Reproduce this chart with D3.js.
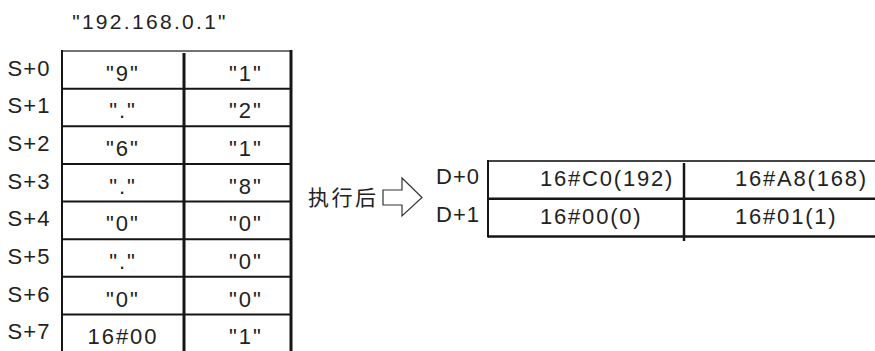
<!DOCTYPE html>
<html><head><meta charset="utf-8">
<script src="https://cdn.jsdelivr.net/npm/d3@7"></script>
<style>
html,body{margin:0;padding:0;background:#fff;}
svg text{font-family:"Liberation Sans",Arial,sans-serif;fill:#222;}
</style></head>
<body><svg id="c" width="875" height="351"></svg>
<script>
const title = '"192.168.0.1"';
const sLabels = ["S+0","S+1","S+2","S+3","S+4","S+5","S+6","S+7"];
const sCol1 = ['"9"','"."','"6"','"."','"0"','"."','"0"','16#00'];
const sCol2 = ['"1"','"2"','"1"','"8"','"0"','"0"','"0"','"1"'];
const dLabels = ["D+0","D+1"];
const dCol1 = ["16#C0(192)","16#00(0)"];
const dCol2 = ["16#A8(168)","16#01(1)"];
const actionText = "执行后";

const svg = d3.select("#c");
const ink = "#161616";

// title
svg.append("text").attr("x",150).attr("y",29).attr("text-anchor","middle")
  .attr("font-size",21).attr("letter-spacing",2.3).text(title);

// ---- left table
const yS = d3.scaleBand().domain(sLabels).range([51,352]);
const xS = d3.scaleOrdinal().domain(["c1","c2"]).range([123,246]);
const L = 62, M = 184, R = 291;
const g1 = svg.append("g");
g1.selectAll("line.h").data(sLabels).join("line")
  .attr("x1",L).attr("x2",R).attr("y1",d=>yS(d)).attr("y2",d=>yS(d))
  .attr("stroke",(d,i)=>i===0?"#444":ink).attr("stroke-width",(d,i)=>i===0?1.6:2);
g1.append("line").attr("x1",L).attr("x2",L).attr("y1",yS(sLabels[0])-1).attr("y2",351)
  .attr("stroke",ink).attr("stroke-width",2);
g1.append("line").attr("x1",M).attr("x2",M).attr("y1",yS(sLabels[0])+2).attr("y2",351)
  .attr("stroke",ink).attr("stroke-width",3);
g1.append("line").attr("x1",R).attr("x2",R).attr("y1",yS(sLabels[0])-1).attr("y2",351)
  .attr("stroke",ink).attr("stroke-width",3);
const bw = yS.bandwidth();
g1.selectAll("text.lab").data(sLabels).join("text")
  .attr("x",29).attr("y",d=>yS(d)+bw/2+6).attr("text-anchor","middle")
  .attr("font-size",22).attr("letter-spacing",1).text(d=>d);
g1.selectAll("text.c1").data(sCol1).join("text")
  .attr("x",xS("c1")).attr("y",(d,i)=>yS(sLabels[i])+bw/2+11).attr("text-anchor","middle")
  .attr("font-size",22).attr("letter-spacing",2).text(d=>d);
g1.selectAll("text.c2").data(sCol2).join("text")
  .attr("x",xS("c2")).attr("y",(d,i)=>yS(sLabels[i])+bw/2+11).attr("text-anchor","middle")
  .attr("font-size",22).attr("letter-spacing",2).text(d=>d);

// ---- action text + hollow arrow
svg.append("text").attr("x",308).attr("y",205).attr("font-size",21)
  .attr("letter-spacing",2.5)
  .style("font-family","'Noto Sans CJK SC',sans-serif").text(actionText);
const arrow = d3.path();
arrow.moveTo(383,190); arrow.lineTo(402,190); arrow.lineTo(402,178);
arrow.lineTo(422,197.5); arrow.lineTo(402,216); arrow.lineTo(402,205);
arrow.lineTo(383,205); arrow.closePath();
svg.append("path").attr("d",arrow.toString()).attr("fill","#fff")
  .attr("stroke","#333").attr("stroke-width",1.2);

// ---- right table
const yD = d3.scaleBand().domain(dLabels).range([161,236.5]);
const dbw = yD.bandwidth();
const DL = 488, DM = 684, DR = 875;
const g2 = svg.append("g");
g2.selectAll("line.h").data([...dLabels,"end"]).join("line")
  .attr("x1",DL).attr("x2",DR)
  .attr("y1",(d,i)=>161+i*dbw).attr("y2",(d,i)=>161+i*dbw)
  .attr("stroke",(d,i)=>i===0?"#444":ink).attr("stroke-width",(d,i)=>i===0?1.8:2.4);
g2.append("line").attr("x1",DL).attr("x2",DL).attr("y1",160).attr("y2",237.5)
  .attr("stroke",ink).attr("stroke-width",2);
g2.append("line").attr("x1",DM).attr("x2",DM).attr("y1",163).attr("y2",241)
  .attr("stroke",ink).attr("stroke-width",2.5);
g2.selectAll("text.lab").data(dLabels).join("text")
  .attr("x",458).attr("y",(d,i)=>yD(d)+dbw/2+4).attr("text-anchor","middle")
  .attr("font-size",22).attr("letter-spacing",1).text(d=>d);
g2.selectAll("text.c1").data(dCol1).join("text")
  .attr("x",540).attr("y",(d,i)=>yD(dLabels[i])+dbw/2+6)
  .attr("font-size",22).attr("letter-spacing",1.8).text(d=>d);
g2.selectAll("text.c2").data(dCol2).join("text")
  .attr("x",735).attr("y",(d,i)=>yD(dLabels[i])+dbw/2+6)
  .attr("font-size",22).attr("letter-spacing",1.8).text(d=>d);
</script></body></html>
